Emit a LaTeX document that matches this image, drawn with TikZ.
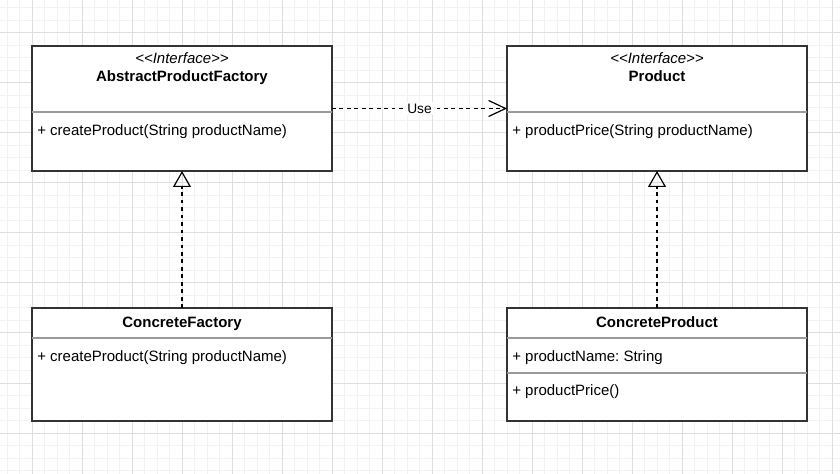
\documentclass[tikz,border=0pt]{standalone}
\usepackage{fontspec}
\setmainfont{Liberation Sans}
\frenchspacing
\usetikzlibrary{arrows.meta}
\definecolor{gridminor}{HTML}{F2F2F2}
\definecolor{gridmajor}{HTML}{DEDEDE}
\definecolor{umlline}{HTML}{333333}
\definecolor{divline}{HTML}{9A9A9A}

\begin{document}
\begin{tikzpicture}[
    x=0.75pt, y=-0.75pt,
    classbox/.style={rectangle, draw=umlline, line width=1.1pt, fill=white, minimum width=225pt, outer sep=0pt, inner sep=0pt},
    divider/.style={draw=divline, line width=0.9pt},
    member/.style={anchor=base west, inner sep=0pt, font=\fontsize{11.25}{13}\selectfont},
    classname/.style={anchor=base, inner sep=0pt, font=\fontsize{11.25}{13}\selectfont\bfseries},
    stereo/.style={anchor=base, inner sep=0pt, font=\fontsize{11.25}{13}\selectfont\itshape},
    realize/.style={-{Triangle[open, length=12pt, width=13.5pt, line width=0.9pt]}, line width=0.9pt, dash pattern=on 2.8pt off 2.8pt},
    usedep/.style={-{Straight Barb[length=12.75pt, width=12pt, line width=0.9pt]}, line width=0.9pt, dash pattern=on 2.8pt off 2.8pt},
    usetag/.style={fill=white, inner sep=1.5pt, font=\fontsize{10.3}{12}\selectfont}
]

% Background grid (12.5px minor, 50px major)
\useasboundingbox (0,0) rectangle (840,474);
\fill[white] (0,0) rectangle (840,474);
\foreach \i in {-2,...,64} \draw[gridminor, line width=0.75pt] (32+12.5*\i,0) -- (32+12.5*\i,474);
\foreach \j in {-2,...,35} \draw[gridminor, line width=0.75pt] (0,33+12.5*\j) -- (840,33+12.5*\j);
\foreach \i in {0,...,16} \draw[gridmajor, line width=0.75pt] (32+50*\i,0) -- (32+50*\i,474);
\foreach \j in {0,...,8} \draw[gridmajor, line width=0.75pt] (0,33+50*\j) -- (840,33+50*\j);

% Interfaces (top row)
\node[classbox, minimum height=93.75pt] (apf)  at (182,108.5) {};
\node[classbox, minimum height=93.75pt] (prod) at (657,108.5) {};
\draw[divider] (apf.west |- 0,112)  -- (apf.east |- 0,112);
\draw[divider] (prod.west |- 0,112) -- (prod.east |- 0,112);

\node[stereo]    (apfst)    at (182,64) {{<}{<}Interface{>}{>}};
\node[classname] (apfname)  at (182,82) {AbstractProductFactory};
\node[member]    (apfop)    at (37,135.5) {+ createProduct(String productName)};

\node[stereo]    (prodst)   at (657,64) {{<}{<}Interface{>}{>}};
\node[classname] (prodname) at (657,82) {Product};
\node[member]    (prodop)   at (512,135.5) {+ productPrice(String productName)};

% Implementations (bottom row)
\node[classbox, minimum height=84.75pt] (cf) at (182,364.5) {};
\node[classbox, minimum height=84.75pt] (cp) at (657,364.5) {};
\draw[divider] (cf.west |- 0,338) -- (cf.east |- 0,338);
\draw[divider] (cp.west |- 0,338) -- (cp.east |- 0,338);
\draw[divider] (cp.west |- 0,373) -- (cp.east |- 0,373);

\node[classname] (cfname)  at (182,327.3) {ConcreteFactory};
\node[member]    (cfop)    at (37,362) {+ createProduct(String productName)};

\node[classname] (cpname)  at (657,327.3) {ConcreteProduct};
\node[member]    (cpattr)  at (512,362) {+ productName: String};
\node[member]    (cpop)    at (512,396) {+ productPrice()};

% Relations
\draw[usedep] (apf.east) -- node[usetag] {Use} (prod.west);
\draw[realize] (cf.north) -- (apf.south);
\draw[realize] (cp.north) -- (prod.south);

\end{tikzpicture}
\end{document}
